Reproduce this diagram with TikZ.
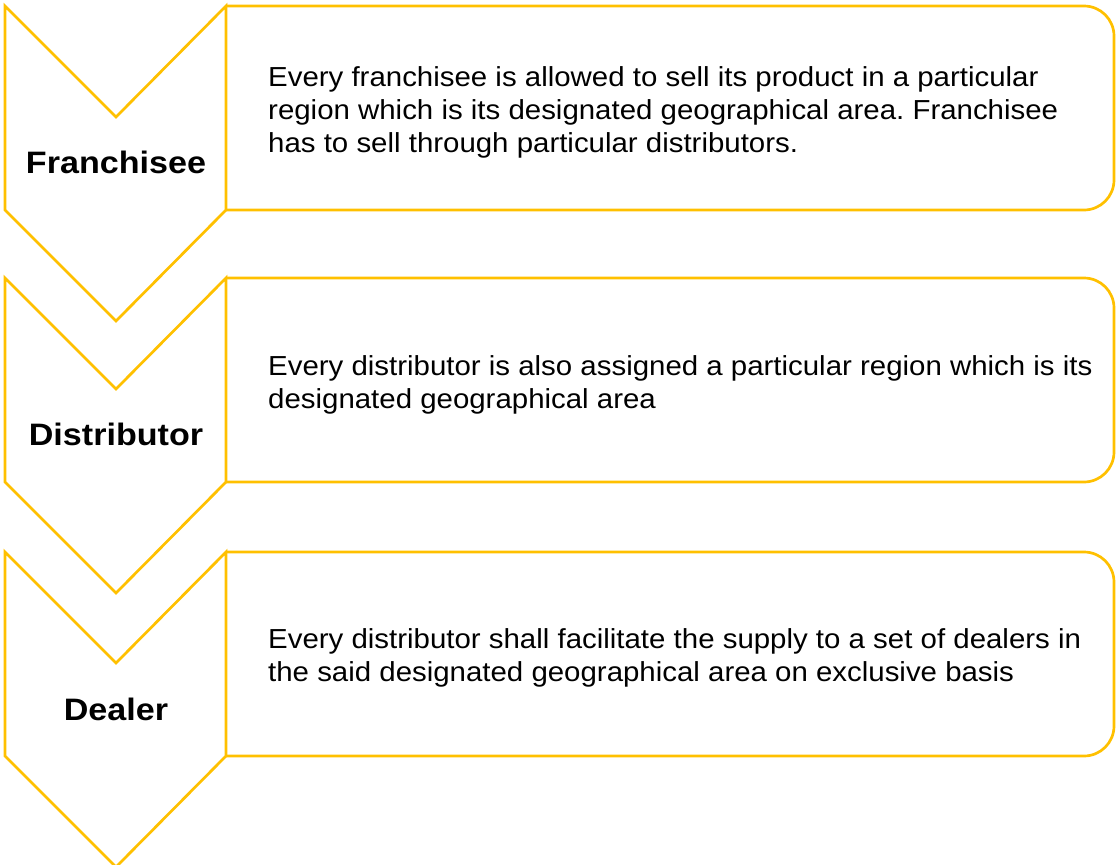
\documentclass[tikz,border=0pt]{standalone}
\usepackage{fontspec}
\setmainfont{Liberation Sans}
\newfontfamily\bodyfont[FakeStretch=1.07]{Liberation Sans}
\newfontfamily\lblfont[FakeStretch=1.1]{Liberation Sans}
\definecolor{gold}{HTML}{FFC000}
\frenchspacing
\tikzset{
  chev/.style={draw=gold, line width=2.7pt, line join=miter},
  infobox/.style={draw=gold, line width=2.7pt, rounded corners=30pt},
  lbl/.style={anchor=base, inner sep=0pt, font=\lblfont\fontsize{31}{37}\selectfont\bfseries},
  desc/.style={anchor=base west, inner sep=0pt, align=left, font=\bodyfont\fontsize{27.5}{33}\selectfont\frenchspacing}
}
\begin{document}
\begin{tikzpicture}[x=1pt, y=-1pt]
\useasboundingbox (0,0) rectangle (1117,865);
% chevrons and boxes
\foreach \t/\n in {6/1, 278/2, 552/3}{
  \draw[chev] (5,\t) -- (116,\t+111) -- (226,\t) -- (226,\t+204) -- (116,\t+315) -- (5,\t+204) -- cycle;
  \draw[infobox] (226,\t) -- (1114,\t) -- (1114,\t+204) -- (226,\t+204);
}
\node[lbl] (l1) at (116,173.5) {Franchisee};
\node[lbl] (l2) at (116,445) {Distributor};
\node[lbl] (l3) at (116,720) {Dealer};
\node[desc] (d1) at (268,152) {Every franchisee is allowed to sell its product in a particular\\region which is its designated geographical area. Franchisee\\has to sell through particular distributors.};
\node[desc] (d2) at (268,408) {Every distributor is also assigned a particular region which is its\\designated geographical area};
\node[desc] (d3) at (268,681) {Every distributor shall facilitate the supply to a set of dealers in\\the said designated geographical area on exclusive basis};
\end{tikzpicture}
\end{document}
